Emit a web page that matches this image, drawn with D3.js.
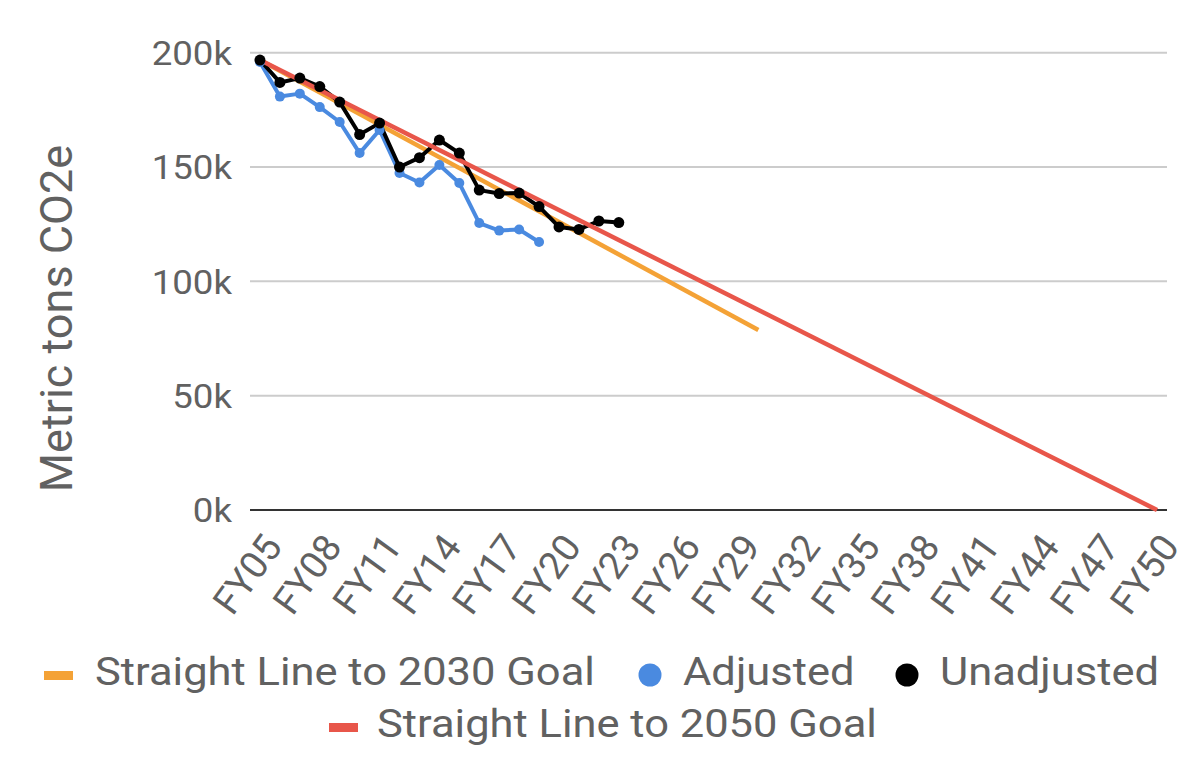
<!DOCTYPE html>
<html><head><meta charset="utf-8">
<script src="https://cdn.jsdelivr.net/npm/d3@7"></script>
<style>
body{margin:0;background:#fff;}
text{font-family:Roboto,"Noto Sans",sans-serif;fill:#616161;}
</style></head>
<body><svg id="c" width="1200" height="771"></svg>
<script>
// ---- data ----
const years = d3.range(5, 51).map(y => "FY" + String(y).padStart(2, "0"));
const tickLabels = years.filter((d, i) => i % 3 === 0);
const measuredYears = ["FY05","FY06","FY07","FY08","FY09","FY10","FY11","FY12","FY13","FY14","FY15","FY16","FY17","FY18","FY19","FY20","FY21","FY22","FY23"];
const unadjusted = [196800,187000,188900,185200,178400,164200,169200,150000,154100,161800,156100,139900,138400,138600,132700,123800,122700,126400,125700];
const adjusted = [195900,180800,182100,176200,169700,156100,166200,147400,143200,150900,143000,125500,122200,122700,117200];
const goal2030Years = ["FY05","FY30"];
const goal2030 = [196800,78700];
const goal2050Years = ["FY05","FY50"];
const goal2050 = [196800,0];
const yTicks = [0,50000,100000,150000,200000];
const legendRow1 = ["Straight Line to 2030 Goal","Adjusted","Unadjusted"];
const legendRow2 = ["Straight Line to 2050 Goal"];

const C = {orange:"#f4a236", red:"#e8564a", blue:"#4a8ae0", black:"#000"};

const svg = d3.select("#c");
const x = d3.scalePoint().domain(years).range([250,1167]).padding(0.5);
const y = d3.scaleLinear().domain([0,200000]).range([510,52.7]);

// gridlines
svg.append("g").selectAll("line").data(yTicks.filter(d=>d>0)).join("line")
  .attr("x1",250).attr("x2",1167).attr("y1",d=>y(d)).attr("y2",d=>y(d))
  .attr("stroke","#cccccc").attr("stroke-width",2);

// y axis labels
const yAxis = svg.append("g").attr("transform","translate(232,0)")
  .call(d3.axisLeft(y).tickValues(yTicks).tickSize(0).tickPadding(0).tickFormat(d=>(d/1000)+"k"));
yAxis.select(".domain").remove();
yAxis.selectAll(".tick text").style("font-size","33px").attr("fill","#616161")
  .attr("x",0).attr("dy","0.355em").attr("transform","scale(1.11,1)");

// axis title
svg.append("text").attr("transform","translate(71.5,318.5) rotate(-90)")
  .attr("text-anchor","middle").style("font-size","45px").text("Metric tons CO2e");

// x axis
const xAxis = svg.append("g").attr("transform","translate(0,510)")
  .call(d3.axisBottom(x).tickValues(tickLabels).tickSize(0).tickPadding(0));
xAxis.select(".domain").attr("stroke","#333").attr("stroke-width",2).attr("d","M250,0H1167");
xAxis.selectAll("text")
  .style("font-size","38px").attr("fill","#616161")
  .attr("text-anchor","end").attr("dy",null).attr("y",0)
  .attr("transform","translate(23,37) rotate(-54)");

// lines
const line = d3.line().x(d=>x(d[0])).y(d=>y(d[1]));
const zip = (a,b)=>a.map((k,i)=>[k,b[i]]);
const g = svg.append("g").attr("fill","none").attr("stroke-linejoin","round").attr("stroke-linecap","round");
g.append("path").attr("d",line(zip(goal2030Years,goal2030))).attr("stroke",C.orange).attr("stroke-width",4.5).attr("stroke-linecap","butt");
g.append("path").attr("d",line(zip(measuredYears.slice(0,adjusted.length),adjusted))).attr("stroke",C.blue).attr("stroke-width",4);
g.append("path").attr("d",line(zip(measuredYears,unadjusted))).attr("stroke",C.black).attr("stroke-width",4);
g.append("path").attr("d",line(zip(goal2050Years,goal2050))).attr("stroke",C.red).attr("stroke-width",4.5).attr("stroke-linecap","butt");

svg.append("g").selectAll("circle").data(zip(measuredYears.slice(0,adjusted.length),adjusted)).join("circle")
  .attr("cx",d=>x(d[0])).attr("cy",d=>y(d[1])).attr("r",5).attr("fill",C.blue);
svg.append("g").selectAll("circle").data(zip(measuredYears,unadjusted)).join("circle")
  .attr("cx",d=>x(d[0])).attr("cy",d=>y(d[1])).attr("r",5.5).attr("fill",C.black);

// legend
const lg = svg.append("g").style("font-size","39px");
const ltext = (xp, yp, s) => lg.append("text").attr("transform",`translate(${xp},${yp}) scale(1.115,1)`).text(s);
// row 1
lg.append("rect").attr("x",44).attr("y",671).attr("width",29).attr("height",9).attr("fill",C.orange);
ltext(95,684.5,legendRow1[0]);
lg.append("circle").attr("cx",650).attr("cy",675).attr("r",11.5).attr("fill",C.blue);
ltext(683,684.5,legendRow1[1]);
lg.append("circle").attr("cx",907).attr("cy",675).attr("r",11.5).attr("fill",C.black);
ltext(940,684.5,legendRow1[2]);
// row 2
lg.append("rect").attr("x",329).attr("y",723).attr("width",29).attr("height",9).attr("fill",C.red);
ltext(377,736.5,legendRow2[0]);
</script></body></html>
